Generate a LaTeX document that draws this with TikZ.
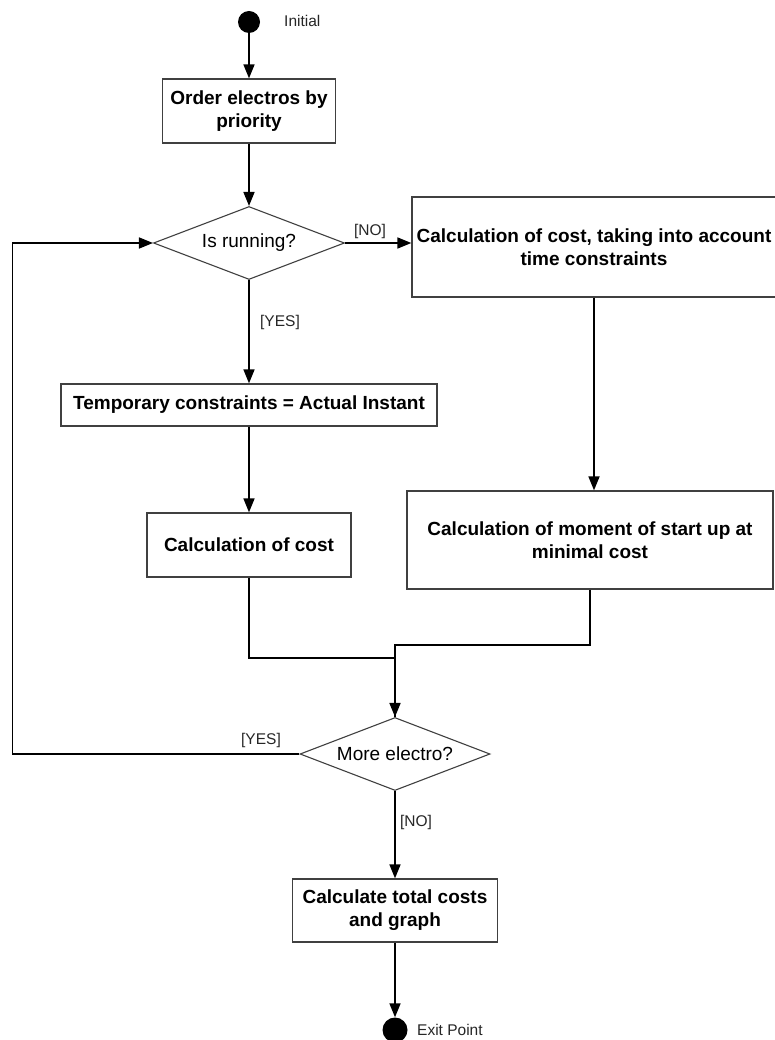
\documentclass[tikz,border=0pt]{standalone}
\usepackage{fontspec}
\setmainfont{Liberation Sans}
\usetikzlibrary{shapes.geometric,arrows.meta,calc}

\begin{document}
\begin{tikzpicture}[x=1pt,y=-1pt,
  actbox/.style={draw=black!75, line width=1.3pt, fill=white, rectangle, inner sep=0pt,
    align=center, font=\fontsize{19}{23}\selectfont\bfseries},
  decide/.style={draw=black!75, line width=1.1pt, diamond, aspect=2.6, inner sep=0pt,
    font=\fontsize{19}{23}\selectfont},
  flow/.style={line width=1.7pt, -{Triangle[length=14pt,width=11pt]}},
  plainline/.style={line width=1.7pt},
  guard/.style={font=\fontsize{15.5}{18}\selectfont, inner sep=0pt, text=black!85},
  endpoint/.style={circle, fill=black, minimum size=22pt, inner sep=0pt}]

  \useasboundingbox (0,0) rectangle (774,1040);
  \fill[white] (0,0) rectangle (774,1040);

  % start / end points
  \node[endpoint] (init) at (249,22) {};
  \node[guard, anchor=west] (initlbl) at (284,21) {Initial};

  % activities and decisions
  \node[actbox, minimum width=173, minimum height=64] (order) at (249,111)
    {Order electros by\\priority};
  \node[decide, minimum width=191, minimum height=73] (running) at (249,243)
    {Is running?};
  \node[actbox, minimum width=364, minimum height=100] (costtime) at (594,247)
    {Calculation of cost, taking into account\\time constraints};
  \node[actbox, minimum width=376, minimum height=42] (temp) at (249,405)
    {Temporary constraints = Actual Instant};
  \node[actbox, minimum width=204, minimum height=64] (cost) at (249,545)
    {Calculation of cost};
  \node[actbox, minimum width=366, minimum height=98] (moment) at (590,540)
    {Calculation of moment of start up at\\minimal cost};
  \node[decide, minimum width=190, minimum height=73] (more) at (395,754)
    {More electro?};
  \node[actbox, minimum width=205, minimum height=63] (total) at (395,910.5)
    {Calculate total costs\\and graph};

  \node[endpoint, minimum size=25pt] (exit) at (395,1030) {};
  \node[guard, anchor=west] (exitlbl) at (417,1030) {Exit Point};

  % connectors
  \draw[flow] (init) -- (order);
  \draw[flow] (order) -- (running);
  \draw[flow] (running.east) -- (running.east -| costtime.west);
  \draw[flow] (running.south) -- (temp.north);
  \draw[flow] (temp) -- (cost);
  \draw[flow] (costtime.south) -- (costtime.south |- moment.north);
  \draw[plainline] (moment.south) -- ++(0,55) -| (more.north);
  \draw[flow] (cost.south) -- ++(0,80) -| (more.north);
  \draw[flow] (more.west) -- ++(-287,0) |- (running.west);
  \draw[flow] (more.south) -- (total.north);
  \draw[flow] (total.south) -- (exit.north);

  % guards
  \node[guard] (noA) at (370,231) {[NO]};
  \node[guard] (yesA) at (280,322) {[YES]};
  \node[guard] (yesB) at (261,740) {[YES]};
  \node[guard] (noB) at (416,822) {[NO]};
\end{tikzpicture}
\end{document}
